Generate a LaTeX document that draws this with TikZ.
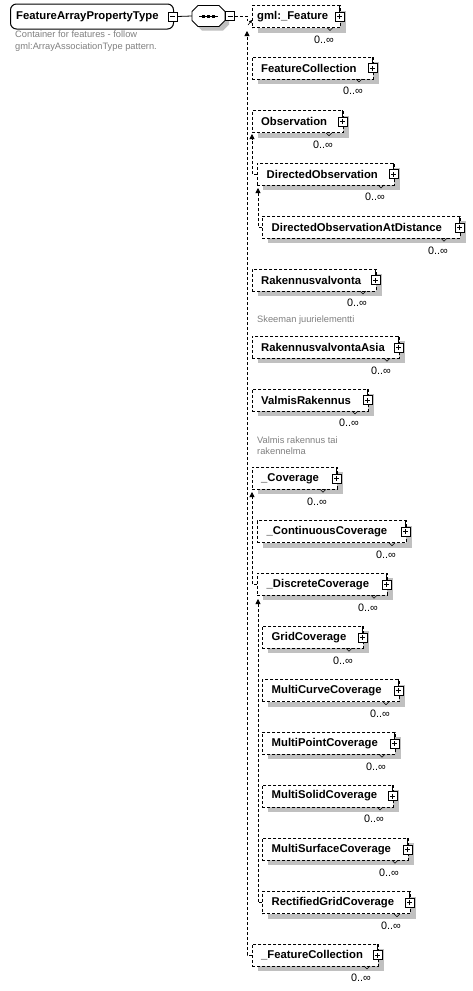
\documentclass[tikz,border=0pt]{standalone}
\usepackage{fontspec}
\setmainfont{Liberation Sans}
\usetikzlibrary{shadows,arrows.meta}
\definecolor{shadowgray}{RGB}{192,192,192}
\definecolor{descgray}{RGB}{128,128,128}
\tikzset{
  elem/.style={draw, dash pattern=on 3pt off 2pt, line width=0.8pt, fill=white,
    minimum height=22pt, inner sep=0pt, anchor=west,
    drop shadow={shadow xshift=6pt, shadow yshift=-5pt, fill=shadowgray, opacity=1}},
  lbl/.style={font=\fontsize{11.3}{13}\selectfont\bfseries, inner sep=0pt, anchor=west},
  plusb/.style={draw, solid, line width=0.6pt, fill=white, minimum size=9pt, inner sep=0pt},
  pm/.style={line width=0.7pt},
  card/.style={font=\fontsize{10.8}{12}\selectfont, inner sep=0pt},
  desc/.style={font=\fontsize{9.3}{11.5}\selectfont, text=descgray, inner sep=0pt, anchor=west, align=left},
  conn/.style={dash pattern=on 3pt off 2pt, line width=0.8pt},
  uparrow/.style={-{Triangle[width=5pt,length=5pt]}},
  notch/.style={line width=0.5pt},
}
% #1 name, #2 left, #3 right, #4 mid y, #5 label, #6 card x, #7 text offset
\newcommand\elembox[7]{%
  \node[elem, minimum width={(#3-#2)*1pt}] (#1) at (#2,#4) {};
  \node[lbl] (#1t) at (#2+#7,#4) {#5};
  \node[plusb] (#1p) at ([xshift=-1pt]#1.east) {};
  \draw[pm] (#1p.north) -- (#1p.north |- #1.north);
  \draw[pm] ([xshift=-2.5pt]#1p.center) -- ([xshift=2.5pt]#1p.center)
            ([yshift=-2.5pt]#1p.center) -- ([yshift=2.5pt]#1p.center);
  \node[card] (#1c) at (#6,#4+23) {0..∞};
  \draw[notch] (#6+3,#4+11) -- (#6+6,#4+14) -- (#6+9,#4+11);
}
\begin{document}
\begin{tikzpicture}[x=1pt,y=-1pt]
\fill[white] (0,0) rectangle (472,991);
\useasboundingbox (0,0) rectangle (472,991);

% root element
\node[draw, line width=1pt, rounded corners=6pt, minimum width=163pt, minimum height=25pt,
      inner sep=0pt, anchor=west, fill=white] (root) at (10,16.5) {};
\node[lbl] (roott) at (16,16.5) {FeatureArrayPropertyType};
\node[draw, line width=0.6pt, fill=white, minimum width=9pt, minimum height=9pt, inner sep=0pt] (rootm) at (172.5,16.5) {};
\draw[pm] ([xshift=-2.5pt]rootm.center) -- ([xshift=2.5pt]rootm.center);
\node[desc] (rootd) at (15,41) {Container for features - follow\\gml:ArrayAssociationType pattern.};

% sequence compositor
\node[inner sep=0pt, minimum width=33pt, minimum height=21pt] (seq) at (208.5,16) {};
\fill[shadowgray] (202,9.5) -- (223,9.5) -- (229,15.5) -- (229,24.5) -- (223,30.5) -- (202,30.5) -- (196,24.5) -- (196,15.5) -- cycle;
\filldraw[fill=white, line width=0.8pt] (198,5.5) -- (219,5.5) -- (225,11.5) -- (225,20.5) -- (219,26.5) -- (198,26.5) -- (192,20.5) -- (192,11.5) -- cycle;
\draw[line width=0.8pt] (199,16) -- (218,16);
\fill (202,14.5) rectangle (205,17.5);
\fill (207,14.5) rectangle (210,17.5);
\fill (212,14.5) rectangle (215,17.5);
\node[draw, line width=0.6pt, fill=white, minimum width=9pt, minimum height=9pt, inner sep=0pt] (seqm) at (230,16) {};
\draw[pm] ([xshift=-2.5pt]seqm.center) -- ([xshift=2.5pt]seqm.center);
\draw[line width=0.8pt] (rootm.east) -- (seq.west);

% elements
\elembox{e1}{252}{340}{16.5}{gml:\_Feature}{324}{5}
\elembox{e2}{252}{373}{68}{FeatureCollection}{353}{9}
\elembox{e3}{252}{343}{121.7}{Observation}{323}{9}
\elembox{e4}{257}{394}{174}{DirectedObservation}{375}{9.5}
\elembox{e5}{262}{460}{227.3}{DirectedObservationAtDistance}{438}{9.5}
\elembox{e6}{252}{376}{280}{Rakennusvalvonta}{357}{9}
\elembox{e7}{252}{399}{347.3}{RakennusvalvontaAsia}{381}{9}
\elembox{e8}{252}{368}{400}{ValmisRakennus}{349}{9}
\elembox{e9}{252}{337}{478.3}{\_Coverage}{317}{9}
\elembox{e10}{257}{406}{531.7}{\_ContinuousCoverage}{386}{9.5}
\elembox{e11}{257}{387}{584.3}{\_DiscreteCoverage}{368}{9.5}
\elembox{e12}{262}{363}{637.3}{GridCoverage}{343}{9.5}
\elembox{e13}{262}{399}{690.7}{MultiCurveCoverage}{380}{9.5}
\elembox{e14}{262}{395}{743.3}{MultiPointCoverage}{376}{9.5}
\elembox{e15}{262}{393}{796}{MultiSolidCoverage}{374}{9.5}
\elembox{e16}{262}{408}{849.3}{MultiSurfaceCoverage}{389}{9.5}
\elembox{e17}{262}{410}{902.7}{RectifiedGridCoverage}{391}{9.5}
\elembox{e18}{252}{378}{955}{\_FeatureCollection}{361}{9}

\node[desc] (e6d) at (257,320) {Skeeman juurielementti};
\node[desc] (e8d) at (257,445.5) {Valmis rakennus tai\\rakennelma};

% choice connector
\coordinate (cs) at (247,16);
\coordinate (cs2) at (247,21);
\draw[conn] (seqm.east) -- (cs) -- (cs2);
\coordinate (ca) at (248,25);
\draw[line width=0.6pt, -{Triangle[width=3pt,length=3pt]}] (ca) -- (e1.west |- 0,20);

% substitution trunks
\coordinate (t0) at (247,31);
\coordinate (t1) at (252,134);
\coordinate (t2) at (258,188);
\coordinate (t3) at (252,492);
\coordinate (t4) at (258,599);
\draw[conn, uparrow] (e18.west) -| (t0);
\draw[conn, uparrow] (e4.west) -| (t1);
\draw[conn, uparrow] (e5.west) -| (t2);
\draw[conn, uparrow] (e11.west) -| (t3);
\draw[conn, uparrow] (e17.west) -| (t4);
\end{tikzpicture}
\end{document}
